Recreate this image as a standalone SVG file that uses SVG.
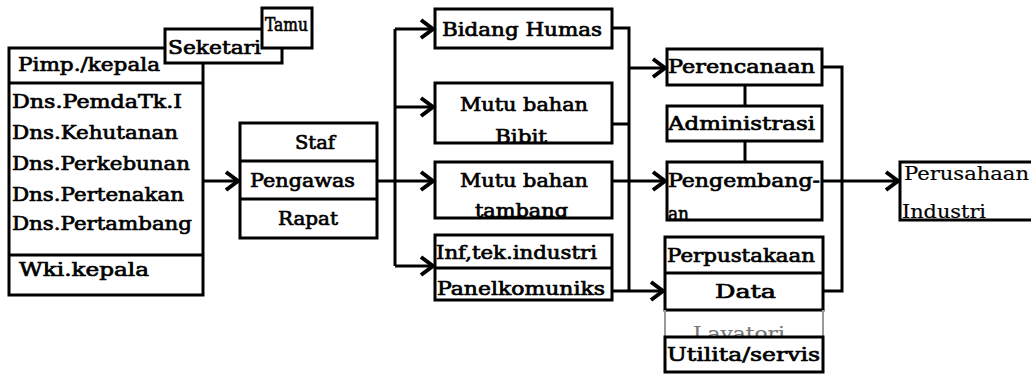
<svg xmlns="http://www.w3.org/2000/svg" width="1031" height="374" viewBox="0 0 1031 374">
<style>
.b{fill:#fff;stroke:#000;stroke-width:3}
.n{fill:none;stroke:#000;stroke-width:3}
.c{fill:none;stroke:#000;stroke-width:3}
.t{font-family:"DejaVu Serif","Liberation Serif",serif;font-weight:normal;font-size:19px;fill:#000;stroke:#000;stroke-width:0.7}
.l{stroke-width:0.2}
.g{fill:#777;stroke:#777;stroke-width:0.2}
.gs{fill:none;stroke:#999;stroke-width:2}
</style>
<defs>
<marker id="arr" markerUnits="userSpaceOnUse" markerWidth="18" markerHeight="22" refX="15" refY="11" orient="auto">
<path d="M3,2 L15,11 L3,20" fill="none" stroke="#000" stroke-width="4" stroke-linejoin="miter"/>
</marker>
<clipPath id="cBibit"><rect x="435" y="83" width="177" height="59"/></clipPath>
<clipPath id="cTamb"><rect x="435" y="162" width="177" height="55"/></clipPath>
<clipPath id="cPeng"><rect x="667" y="162" width="155" height="57"/></clipPath>
<clipPath id="cLav"><rect x="665" y="310" width="158" height="26"/></clipPath>
<clipPath id="cInd"><rect x="900" y="162" width="140" height="57"/></clipPath>
</defs>

<g id="connectors">
<path class="c" d="M203,181 H238" marker-end="url(#arr)"/>
<path class="c" d="M377,181 H395"/>
<path class="c" d="M395,29 V266"/>
<path class="c" d="M395,29 H433" marker-end="url(#arr)"/>
<path class="c" d="M395,107 H433" marker-end="url(#arr)"/>
<path class="c" d="M395,181 H433" marker-end="url(#arr)"/>
<path class="c" d="M395,266 H433" marker-end="url(#arr)"/>
<path class="c" d="M612,28 H629 V291"/>
<path class="c" d="M612,124 H629"/>
<path class="c" d="M629,68 H665" marker-end="url(#arr)"/>
<path class="c" d="M612,181 H665" marker-end="url(#arr)"/>
<path class="c" d="M612,291 H663" marker-end="url(#arr)"/>
<path class="c" d="M745,85 V106"/>
<path class="c" d="M745,141 V162"/>
<path class="c" d="M822,67 H842 V291 H823"/>
<path class="c" d="M822,181 H898" marker-end="url(#arr)"/>
</g>

<g id="left-group">
<rect class="b" x="9" y="48" width="194" height="247"/>
<line class="n" x1="9" y1="83" x2="203" y2="83"/>
<line class="n" x1="9" y1="255" x2="203" y2="255"/>
<text class="t" x="18" y="71" textLength="142" lengthAdjust="spacingAndGlyphs">Pimp./kepala</text>
<text class="t" x="12" y="108" textLength="170" lengthAdjust="spacingAndGlyphs">Dns.PemdaTk.I</text>
<text class="t" x="12" y="139" textLength="166" lengthAdjust="spacingAndGlyphs">Dns.Kehutanan</text>
<text class="t" x="12" y="170" textLength="178" lengthAdjust="spacingAndGlyphs">Dns.Perkebunan</text>
<text class="t" x="12" y="201" textLength="172" lengthAdjust="spacingAndGlyphs">Dns.Pertenakan</text>
<text class="t" x="12" y="230" textLength="180" lengthAdjust="spacingAndGlyphs">Dns.Pertambang</text>
<text class="t" x="19" y="276" textLength="130" lengthAdjust="spacingAndGlyphs">Wki.kepala</text>
</g>

<g id="seketari">
<rect class="b" x="165" y="29" width="117" height="34"/>
<text class="t" x="168" y="54" textLength="93" lengthAdjust="spacingAndGlyphs">Seketari</text>
</g>

<g id="tamu">
<rect class="b" x="262" y="8" width="50" height="40"/>
<text class="t" x="265" y="31" textLength="43" lengthAdjust="spacingAndGlyphs">Tamu</text>
</g>

<g id="staf-group">
<rect class="b" x="240" y="123" width="137" height="115"/>
<line class="n" x1="240" y1="161" x2="377" y2="161"/>
<line class="n" x1="240" y1="199" x2="377" y2="199"/>
<text class="t" x="295" y="149" textLength="40" lengthAdjust="spacingAndGlyphs">Staf</text>
<text class="t" x="250" y="187" textLength="105" lengthAdjust="spacingAndGlyphs">Pengawas</text>
<text class="t" x="278" y="225" textLength="60" lengthAdjust="spacingAndGlyphs">Rapat</text>
</g>

<g id="bidang-humas">
<rect class="b" x="435" y="9" width="177" height="39"/>
<text class="t" x="442" y="36" textLength="160" lengthAdjust="spacingAndGlyphs">Bidang Humas</text>
</g>

<g id="mutu-bibit">
<rect class="b" x="435" y="83" width="177" height="60"/>
<text class="t" x="460" y="111" textLength="128" lengthAdjust="spacingAndGlyphs">Mutu bahan</text>
<text class="t" x="495" y="143" textLength="52" lengthAdjust="spacingAndGlyphs" clip-path="url(#cBibit)">Bibit</text>
</g>

<g id="mutu-tambang">
<rect class="b" x="435" y="162" width="177" height="56"/>
<text class="t" x="460" y="187" textLength="128" lengthAdjust="spacingAndGlyphs">Mutu bahan</text>
<text class="t" x="475" y="217" textLength="93" lengthAdjust="spacingAndGlyphs" clip-path="url(#cTamb)">tambang</text>
</g>

<g id="inf-panel">
<rect class="b" x="435" y="235" width="177" height="65"/>
<line class="n" x1="435" y1="268" x2="612" y2="268"/>
<text class="t" x="436" y="259" textLength="161" lengthAdjust="spacingAndGlyphs">Inf,tek.industri</text>
<text class="t" x="437" y="295" textLength="168" lengthAdjust="spacingAndGlyphs">Panelkomuniks</text>
</g>

<g id="perencanaan">
<rect class="b" x="667" y="49" width="155" height="36"/>
<text class="t" x="668" y="73" textLength="147" lengthAdjust="spacingAndGlyphs">Perencanaan</text>
</g>

<g id="administrasi">
<rect class="b" x="667" y="106" width="155" height="35"/>
<text class="t" x="668" y="130" textLength="147" lengthAdjust="spacingAndGlyphs">Administrasi</text>
</g>

<g id="pengembangan">
<rect class="b" x="667" y="162" width="155" height="58"/>
<text class="t" x="668" y="187" textLength="152" lengthAdjust="spacingAndGlyphs">Pengembang-</text>
<text class="t" x="668" y="220" textLength="21" lengthAdjust="spacingAndGlyphs" clip-path="url(#cPeng)">an</text>
</g>

<g id="perpustakaan-group">
<rect class="b" x="665" y="237" width="158" height="73"/>
<line class="n" x1="665" y1="273" x2="823" y2="273"/>
<text class="t" x="667" y="262" textLength="148" lengthAdjust="spacingAndGlyphs">Perpustakaan</text>
<text class="t" x="715" y="298" textLength="61" lengthAdjust="spacingAndGlyphs">Data</text>
</g>

<g id="lavatori">
<path class="gs" d="M665,310 V337 M823,310 V337"/>
<text class="t g" x="693" y="340" textLength="92" lengthAdjust="spacingAndGlyphs" clip-path="url(#cLav)">Lavatori</text>
</g>

<g id="utilita">
<rect class="b" x="665" y="337" width="158" height="35"/>
<text class="t" x="667" y="361" textLength="153" lengthAdjust="spacingAndGlyphs">Utilita/servis</text>
</g>

<g id="perusahaan">
<path fill="#fff" stroke="#000" stroke-width="3" d="M1040,162 H900 V220 H1040"/>
<text class="t l" x="904" y="180" textLength="125" lengthAdjust="spacingAndGlyphs">Perusahaan</text>
<text class="t l" x="902" y="218" textLength="84" lengthAdjust="spacingAndGlyphs" clip-path="url(#cInd)">Industri</text>
</g>
</svg>
